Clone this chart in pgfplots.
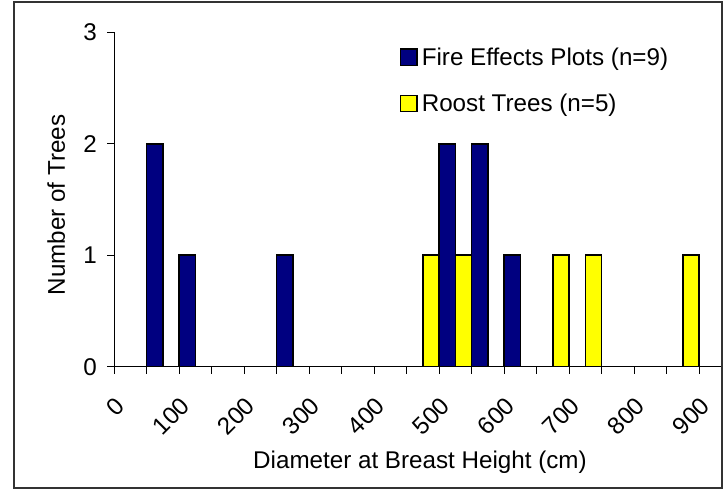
\documentclass[border=0pt]{standalone}
\usepackage{fontspec}
\setmainfont{Liberation Sans}
\usepackage{pgfplots}
\pgfplotsset{compat=1.18}
\definecolor{navybar}{HTML}{000080}
\definecolor{yellowbar}{HTML}{FFFF00}
\begin{document}
\fontsize{12.1}{14.5}\selectfont
\begin{tikzpicture}
\begin{axis}[
  at={(57.1pt,61.65pt)}, anchor=south west,
  scale only axis, width=308.75pt, height=167.2pt,
  xmin=-25, xmax=925, ymin=0, ymax=3,
  axis lines*=left,
  axis line style={line width=0.5pt, black},
  ybar, bar width=25,
  xtick={0,100,...,900},
  major x tick style={draw=none},
  minor xtick={-25,25,...,925},
  ytick={0,1,2,3},
  tick align=outside,
  major tick length=3.5pt, minor tick length=3.5pt,
  tick style={black, line width=0.5pt},
  /pgf/number format/assume math mode=true,
  xticklabel style={xshift=-5pt, yshift=-14pt, anchor=east, rotate=45, inner sep=0pt},
  yticklabel style={inner sep=0pt, xshift=-5pt},
  every axis x label/.style={at={(axis description cs:0.4952,-0.303)}, anchor=base},
  every axis y label/.style={at={(axis description cs:-0.0797,0.4836)}, rotate=90, anchor=base},
  xlabel={Diameter at Breast Height (cm)},
  ylabel={Number of Trees},
  legend style={draw=none, fill=none, at={(axis description cs:0.462,0.955)}, anchor=north west,
    inner sep=0pt, row sep=12.6pt, /tikz/column sep=2pt, nodes={inner sep=0pt}},
  legend cell align=left,
  legend image code/.code={\draw[#1, line width=0.75pt] (0pt,-3.5pt) rectangle (8.2pt,4.7pt);},
]
\addplot[fill=navybar, draw=black, line width=0.75pt, bar shift=-12.5]
  coordinates {(50,2) (100,1) (250,1) (500,2) (550,2) (600,1)};
\addplot[fill=yellowbar, draw=black, line width=0.75pt, bar shift=12.5]
  coordinates {(450,1) (500,1) (650,1) (700,1) (850,1)};
\legend{Fire Effects Plots (n=9), Roost Trees (n=5)}
\end{axis}
\draw[line width=0.75pt, black!80] (7pt,1pt) rectangle (361pt,244pt);
\pgfresetboundingbox
\useasboundingbox (0,0) rectangle (361.5pt,245pt);
\end{tikzpicture}
\end{document}
